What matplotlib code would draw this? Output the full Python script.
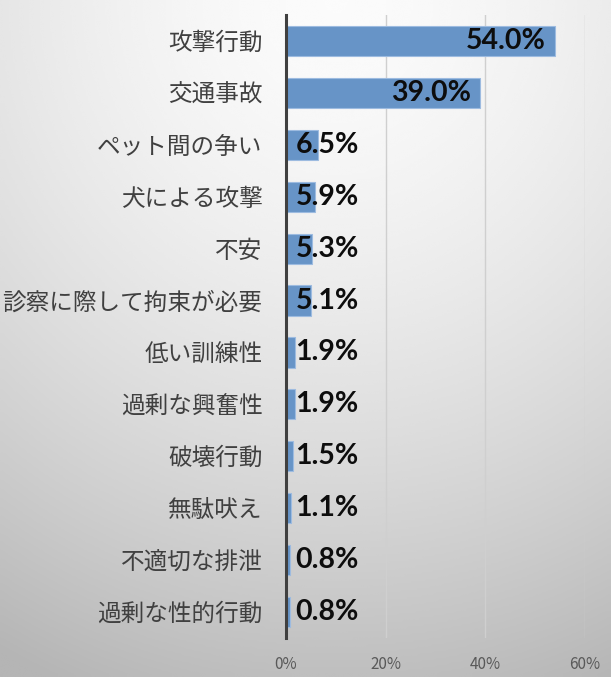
import numpy as np
import matplotlib.pyplot as plt

# Data (top to bottom as shown)
categories = ['攻撃行動', '交通事故', 'ペット間の争い', '犬による攻撃', '不安',
              '診察に際して拘束が必要', '低い訓練性', '過剰な興奮性', '破壊行動',
              '無駄吠え', '不適切な排泄', '過剰な性的行動']
values = [54.0, 39.0, 6.5, 5.9, 5.3, 5.1, 1.9, 1.9, 1.5, 1.1, 0.8, 0.8]
xticks = [0, 20, 40, 60]

plt.rcParams['font.family'] = ['Noto Sans CJK JP', 'DejaVu Sans']

fig = plt.figure(figsize=(6.11, 6.77), dpi=100)

# Radial gradient background
bg = fig.add_axes([0, 0, 1, 1], zorder=-10)
yy, xx = np.mgrid[0:1:300j, 0:1:300j]
r = np.sqrt(((xx - 0.55) * 1.0) ** 2 + (yy * 1.05) ** 2)
shade = 0.985 - 0.22 * np.clip(r, 0, 1.15) ** 1.6
bg.imshow(shade, cmap='gray', vmin=0, vmax=1, aspect='auto',
          extent=[0, 1, 1, 0], interpolation='bicubic')
bg.axis('off')

ax = fig.add_axes([286 / 611, 1 - 638 / 677, (585 - 286) / 611, (638 - 15) / 677])
ax.set_facecolor('none')

y = np.arange(len(categories))
ax.barh(y, values, height=0.58, color='#6794c7', edgecolor='#9dbbe0',
        linewidth=0.8, zorder=3)

for yi, v in zip(y, values):
    if v > 20:
        ax.text(v - 1.9, yi, f'{v:.1f}%', ha='right', va='center',
                fontsize=20.5, fontweight='bold', color='#0d0d0d',
                family='Lato', zorder=4)
    else:
        ax.text(1.9, yi, f'{v:.1f}%', ha='left', va='center',
                fontsize=20.5, fontweight='bold', color='#0d0d0d',
                family='Lato', zorder=4)

ax.set_ylim(len(categories) - 0.5, -0.5)
ax.set_xlim(0, 60)
ax.set_yticks(y)
ax.set_yticklabels(categories, fontsize=17, color='#404040')
ax.tick_params(axis='y', length=0, pad=17)
ax.set_xticks(xticks)
ax.set_xticklabels([f'{t}%' for t in xticks], fontsize=11, color='#595959')
ax.tick_params(axis='x', length=0, pad=13)

ax.grid(axis='x', color='#cfcfcf', linewidth=1, zorder=0)
for s in ['top', 'right', 'bottom']:
    ax.spines[s].set_visible(False)
ax.spines['left'].set_color('#404040')
ax.spines['left'].set_linewidth(2.2)
ax.spines['left'].set_zorder(5)

fig.savefig('out.png', dpi=100)
